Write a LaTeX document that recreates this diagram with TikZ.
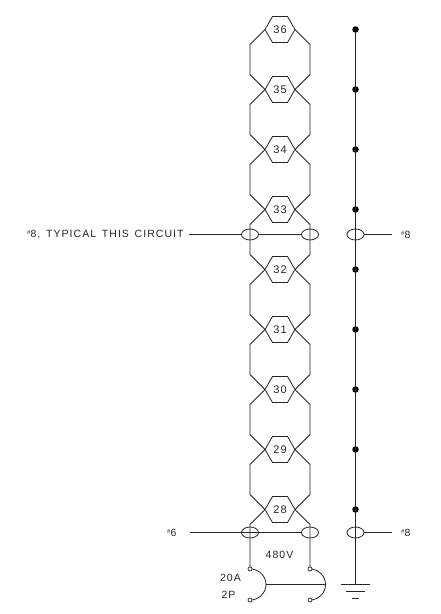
\documentclass[tikz,border=0pt]{standalone}
\usepackage{fontspec}
\setmainfont[LetterSpace=10,WordSpace=1.45]{Liberation Sans}
\usetikzlibrary{shapes.geometric}
\tikzset{
  wire/.style={draw=black!85,line width=.8pt},
  hexnode/.style={regular polygon,regular polygon sides=6,minimum size=30pt,inner sep=0pt,outer sep=0pt,draw=black!85,line width=.8pt,font=\fontsize{11}{11}\selectfont,text=black!85},
  tapnode/.style={ellipse,minimum width=17pt,minimum height=11pt,inner sep=0pt,outer sep=0pt,draw=black!85,line width=.8pt},
  busdot/.style={circle,fill=black,minimum size=6.5pt,inner sep=0pt,outer sep=0pt},
  termnode/.style={circle,minimum size=4pt,inner sep=0pt,outer sep=0pt,draw=black!85,line width=.7pt},
  lbl/.style={font=\fontsize{10.5}{11}\selectfont,text=black!85,inner sep=0pt}
}
\newcommand{\numsign}{\raisebox{2.5pt}{\fontsize{6}{5}\selectfont\#}}
\begin{document}
\begin{tikzpicture}[x=1pt,y=-1pt]
\useasboundingbox (0,0) rectangle (441,614);
% hexagons
\foreach \n/\y in {36/29.5,35/89.5,34/149.5,33/209.5,32/269.5,31/329.5,30/389.5,29/449.5,28/509.5}{
  \node[hexnode] (h\n) at (280,\y) {\n};
  \node[busdot] (d\n) at (355.5,\y) {};
}
% chain between hexagons
\foreach \a/\b in {36/35,35/34,34/33,33/32,32/31,31/30,30/29,29/28}{
  \draw[wire] (h\a.west) -- ++(-15,15) -- ++(0,30) -- (h\b.west);
  \draw[wire] (h\a.east) -- ++(15,15) -- ++(0,30) -- (h\b.east);
}
% taps
\node[tapnode] (t1) at (250,234.5) {};
\node[tapnode] (t2) at (310,234.5) {};
\node[tapnode] (t3) at (355.5,234.5) {};
\node[tapnode] (t4) at (250,532.5) {};
\node[tapnode] (t5) at (310,532.5) {};
\node[tapnode] (t6) at (355.5,532.5) {};
% labels
\node[lbl,anchor=west] (l1) at (27,234.5) {\numsign 8, TYPICAL THIS CIRCUIT};
\node[lbl,anchor=west] (l2) at (401,234.5) {\numsign 8};
\node[lbl,anchor=west] (l3) at (167,532.5) {\numsign 6};
\node[lbl,anchor=west] (l4) at (401,532.5) {\numsign 8};
\node[lbl] (v) at (279.5,554.5) {480V};
\node[lbl] (a) at (230.5,577.5) {20A};
\node[lbl] (p) at (228.5,594.5) {2P};
% horizontal taps
\draw[wire] (189,234.5) -- (t1.west);
\draw[wire] (t1.east) -- (t2.west);
\draw[wire] (t3.east) -- (392,234.5);
\draw[wire] (190,532.5) -- (t4.east);
\draw[wire,line width=1.2pt] (t4.east) -- (280,532.5);
\draw[wire] (280,532.5) -- (t5.west);
\draw[wire] (t6.east) -- (392,532.5);
% breaker
\node[termnode] (s1) at (250,569) {};
\node[termnode] (s2) at (250,600) {};
\node[termnode] (s3) at (310,569) {};
\node[termnode] (s4) at (310,600) {};
\coordinate (b1) at (266,584.5);
\coordinate (b2) at (325.5,584.5);
\draw[wire] (h28.west) -- ++(-15,15) -- (s1.north);
\draw[wire] (h28.east) -- ++(15,15) -- (s3.north);
\draw[wire] (s1.east) .. controls (259,570) and (266,576) .. (b1) .. controls (266,593) and (259,599) .. (s2.east);
\draw[wire] (s3.east) .. controls (319,570) and (325.5,576) .. (b2) .. controls (325.5,593) and (319,599) .. (s4.east);
\draw[wire] (b1) -- (b2);
% bus and ground
\coordinate (g1) at (355.5,584.5);
\draw[wire] (d36) -- (g1);
\draw[wire] (340.5,584.5) -- (370,584.5);
\draw[wire] (346,591.5) -- (364.5,591.5);
\draw[wire] (351.5,598.5) -- (359,598.5);
\end{tikzpicture}
\end{document}
